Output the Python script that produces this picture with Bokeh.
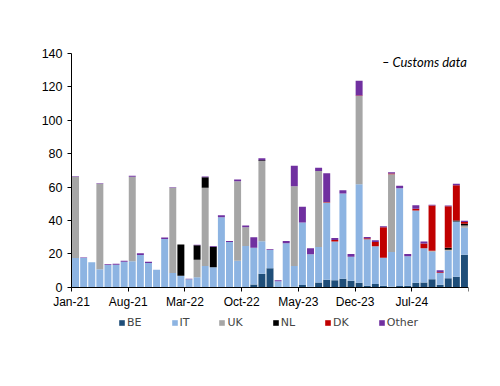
from bokeh.plotting import figure
from bokeh.models import (ColumnDataSource, Range1d, FixedTicker, Legend, LegendItem, Label)
from bokeh.embed import file_html
from bokeh.resources import INLINE

months = ["Jan-21", "Feb-21", "Mar-21", "Apr-21", "May-21", "Jun-21", "Jul-21", "Aug-21", "Sep-21", "Oct-21",
          "Nov-21", "Dec-21", "Jan-22", "Feb-22", "Mar-22", "Apr-22", "May-22", "Jun-22", "Jul-22", "Aug-22",
          "Sep-22", "Oct-22", "Nov-22", "Dec-22", "Jan-23", "Feb-23", "Mar-23", "Apr-23", "May-23", "Jun-23",
          "Jul-23", "Aug-23", "Sep-23", "Oct-23", "Nov-23", "Dec-23", "Jan-24", "Feb-24", "Mar-24", "Apr-24",
          "May-24", "Jun-24", "Jul-24", "Aug-24", "Sep-24", "Oct-24", "Nov-24", "Dec-24", "Jan-25"]

BE = [0, 0, 0, 0, 0, 0, 0, 0, 0, 0,
      0, 0, 0, 0, 0, 0, 0, 0, 0, 0,
      0, 0, 1.8, 8.2, 11.4, 0, 0, 0.4, 1.4, 0.4,
      3.0, 4.6, 4.2, 5.2, 4.0, 2.8, 1.0, 2.0, 1.0, 0.4,
      0.8, 1.0, 2.8, 3.0, 4.8, 1.6, 5.4, 6.4, 19.5]
IT = [17.6, 17.6, 15.0, 10.8, 13.4, 13.6, 15.4, 15.6, 19.4, 14.6,
      10.6, 29.0, 8.6, 7.0, 4.8, 6.0, 12.8, 12.0, 42.0, 27.2,
      16.0, 24.8, 22.0, 19.4, 11.0, 3.6, 26.4, 12.4, 37.4, 19.4,
      21.2, 46.2, 23.2, 51.0, 14.4, 59.0, 27.8, 22.6, 16.8, 20.8,
      58.6, 17.6, 43.2, 20.4, 16.6, 7.0, 16.5, 33.1, 16.2]
UK = [48.6, 0, 0, 51.2, 0, 0, 0, 50.6, 0, 0,
      0, 0, 51.0, 0, 0, 10.6, 46.8, 0, 0, 0,
      47.6, 11.2, 0, 48.0, 0, 0, 0, 47.8, 0, 0,
      45.4, 0, 0, 0, 0, 52.8, 0, 0, 0, 46.6,
      0, 0, 0, 0, 0.6, 0, 0.7, 0, 1.4]
NL = [0, 0, 0, 0, 0, 0, 0, 0, 0, 0,
      0, 0, 0, 18.6, 0, 8.6, 6.4, 12.4, 0, 0,
      0, 0, 0, 0.5, 0, 0, 0, 0, 0, 0,
      0, 0, 0, 0, 0, 0, 0, 0, 0, 0,
      0, 0, 0, 0, 0, 0, 1.1, 0.5, 1.0]
DK = [0, 0, 0, 0, 0, 0, 0, 0, 0, 0,
      0, 0, 0, 0, 0, 0, 0, 0, 0, 0,
      0, 0, 0, 0, 0, 0, 0, 0, 0, 0,
      0, 0.3, 1.0, 0, 0, 0.3, 0.6, 2.6, 18.2, 0.4,
      0, 0, 1.1, 2.8, 27.0, 0.5, 24.8, 21.1, 1.0]
Other = [0.3, 0.3, 0, 0.3, 0.5, 0.5, 0.6, 0.6, 1.0, 0.8,
         0, 0.8, 0.4, 0, 0.4, 0.3, 0.4, 0.4, 1.2, 0.5,
         1.0, 1.0, 6.2, 1.2, 0.4, 0.6, 1.4, 12.2, 9.4, 3.6,
         2.0, 17.3, 1.2, 2.0, 1.6, 8.8, 0.8, 1.0, 0.6, 0.8,
         1.4, 1.4, 2.0, 1.2, 0.5, 1.1, 0.5, 0.9, 0.8]

series = ["BE", "IT", "UK", "NL", "DK", "Other"]
colors = ["#1F4E79", "#8DB4E2", "#A6A6A6", "#000000", "#C00000", "#7030A0"]
tick_step = 7
annotation = "\u2013 Customs data"

idx = list(range(len(months)))
source = ColumnDataSource(dict(x=idx, BE=BE, IT=IT, UK=UK, NL=NL, DK=DK, Other=Other))

# layout: frame is widened to the left, above 140 and below zero so that axis
# labels and legend sit inside it; axes are pinned at x=-0.5 / y=0
n = len(months)
px_per_month = 397 / n
extra_left_px = 51
x_start = -0.5 - extra_left_px / px_per_month
px_per_unit = 284 / 170
extra_top_units = 6
y_end = 140 + extra_top_units
frame_h = int(round((y_end + 30) * px_per_unit))
top_border = 53 - int(round(extra_top_units * px_per_unit))

p = figure(frame_width=397 + extra_left_px, frame_height=frame_h, output_backend="svg", toolbar_location=None,
           x_range=Range1d(x_start, n - 0.5), y_range=Range1d(-30, y_end),
           min_border_left=20, min_border_right=24, min_border_top=top_border, min_border_bottom=0)
p.outline_line_color = None
p.grid.visible = False
p.background_fill_color = "white"
p.border_fill_color = "white"

renderers = p.vbar_stack(series, x="x", width=0.86, color=colors, source=source, line_width=0)

ticks = [i - 0.5 for i in range(0, n + 1, tick_step)]
overrides = {}
for t in ticks:
    i = int(t + 0.5)
    overrides[t] = months[i] if i < n else ""
p.xaxis.ticker = FixedTicker(ticks=ticks)
p.xaxis.major_label_overrides = overrides
p.xaxis.fixed_location = 0
p.xaxis.bounds = (-0.5, n - 0.5)
p.yaxis.ticker = FixedTicker(ticks=list(range(0, 141, 20)))
p.yaxis.fixed_location = -0.5
p.yaxis.bounds = (0, 140)

for ax in (p.xaxis[0], p.yaxis[0]):
    ax.axis_line_color = "black"
    ax.major_tick_line_color = "black"
    ax.major_tick_in = 0
    ax.major_tick_out = 4
    ax.minor_tick_line_color = None
    ax.major_label_text_color = "black"
    ax.major_label_text_font = "Liberation Sans"
p.xaxis.major_label_text_font_size = "12px"
p.yaxis.major_label_text_font_size = "12.5px"
p.xaxis.major_label_standoff = 4
p.yaxis.major_label_standoff = 5

items = [LegendItem(label=s, renderers=[r]) for s, r in zip(series, renderers)]
legend = Legend(items=items, orientation="horizontal", location=(45 + extra_left_px, 6),
                glyph_width=7, glyph_height=7, label_standoff=2, spacing=29,
                label_width=0, label_height=12, padding=2, margin=0,
                label_text_font="DejaVu Sans", label_text_font_size="11px",
                border_line_alpha=0, background_fill_alpha=0)
p.add_layout(legend, "center")

lab = Label(x=n - 0.7, y=135, text=annotation, text_align="right", text_baseline="middle",
            text_font="Lato", text_font_style="italic", text_font_size="13px", text_color="black")
p.add_layout(lab)

open("out.html", "w").write(file_html(p, INLINE))
